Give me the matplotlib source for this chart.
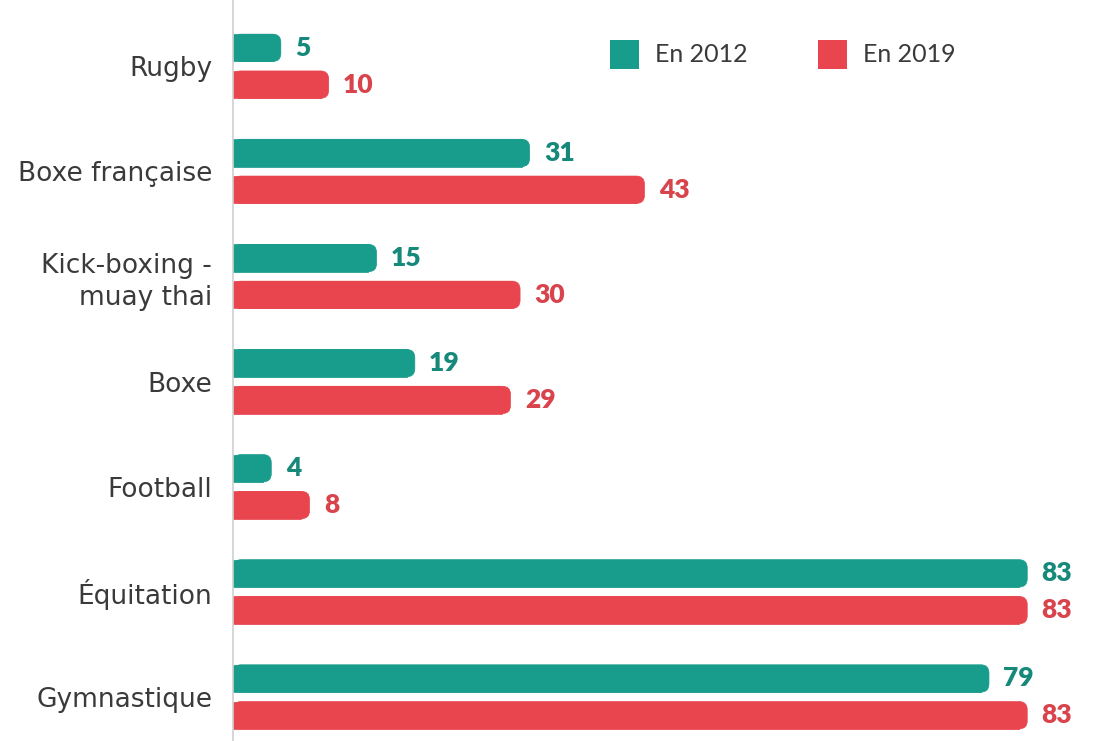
import matplotlib.pyplot as plt
from matplotlib.patches import FancyBboxPatch, Rectangle

sports = ["Rugby", "Boxe française", "Kick-boxing -\nmuay thai", "Boxe", "Football", "Équitation", "Gymnastique"]
vals_2012 = [5, 31, 15, 19, 4, 83, 79]
vals_2019 = [10, 43, 30, 29, 8, 83, 83]
series = ["En 2012", "En 2019"]

TEAL = "#189c8b"
RED = "#e8454e"
TEAL_TXT = "#16897b"
RED_TXT = "#d8434c"

plt.rcParams.update({"font.family": ["DejaVu Sans"]})

fig = plt.figure(figsize=(10.99, 7.41), dpi=100)
ax = fig.add_axes([233 / 1099, 0, 1 - 233 / 1099, 1])
ax.set_xlim(0, 90.5)
ax.set_ylim(6.42, -0.63)

h = 0.26
off = 0.175
# data-unit ratio so the rounded corners stay circular
aspect = (1 / 105) / (1 / 9.57)
r = 0.85

for vals, sign, col, tcol in [(vals_2012, -1, TEAL, TEAL_TXT), (vals_2019, 1, RED, RED_TXT)]:
    bars = ax.barh([i + sign * off for i in range(len(sports))], vals, height=h, color="none")
    for b, v in zip(bars, vals):
        x0, y0 = b.get_x(), b.get_y()
        w, hh = b.get_width(), b.get_height()
        ax.add_patch(FancyBboxPatch((x0, y0), w, hh, boxstyle=f"round,pad=0,rounding_size={r}",
                                    mutation_aspect=aspect, fc=col, ec=col, lw=0.5))
        ax.add_patch(Rectangle((x0, y0), w - r, hh, fc=col, ec=col, lw=0.5))
        ax.text(w + 1.5, y0 + hh / 2, str(v), ha="left", va="center", fontsize=19,
                fontweight="heavy", color=tcol, family=["Lato", "DejaVu Sans"])

ax.set_yticks(range(len(sports)))
ax.set_yticklabels(sports, fontsize=19, color="#3a3a3a", linespacing=1.3)
ax.tick_params(axis="y", length=0, pad=15)
ax.set_xticks([])
for s in ["top", "right", "bottom"]:
    ax.spines[s].set_visible(False)
ax.spines["left"].set_color("#cfcfcf")
ax.spines["left"].set_linewidth(1.2)

# legend placed in figure pixels
for (x, label, col) in [(610, series[0], TEAL), (818, series[1], RED)]:
    fig.patches.append(Rectangle((x / 1099, 1 - 69 / 741), 29 / 1099, 29 / 741,
                                 transform=fig.transFigure, fc=col, ec="none"))
    fig.text((x + 45) / 1099, 1 - 55 / 741, label, ha="left", va="center", fontsize=18,
             color="#3a3a3a", family=["Lato", "DejaVu Sans"])

fig.savefig("out.png", dpi=100, facecolor="white")
